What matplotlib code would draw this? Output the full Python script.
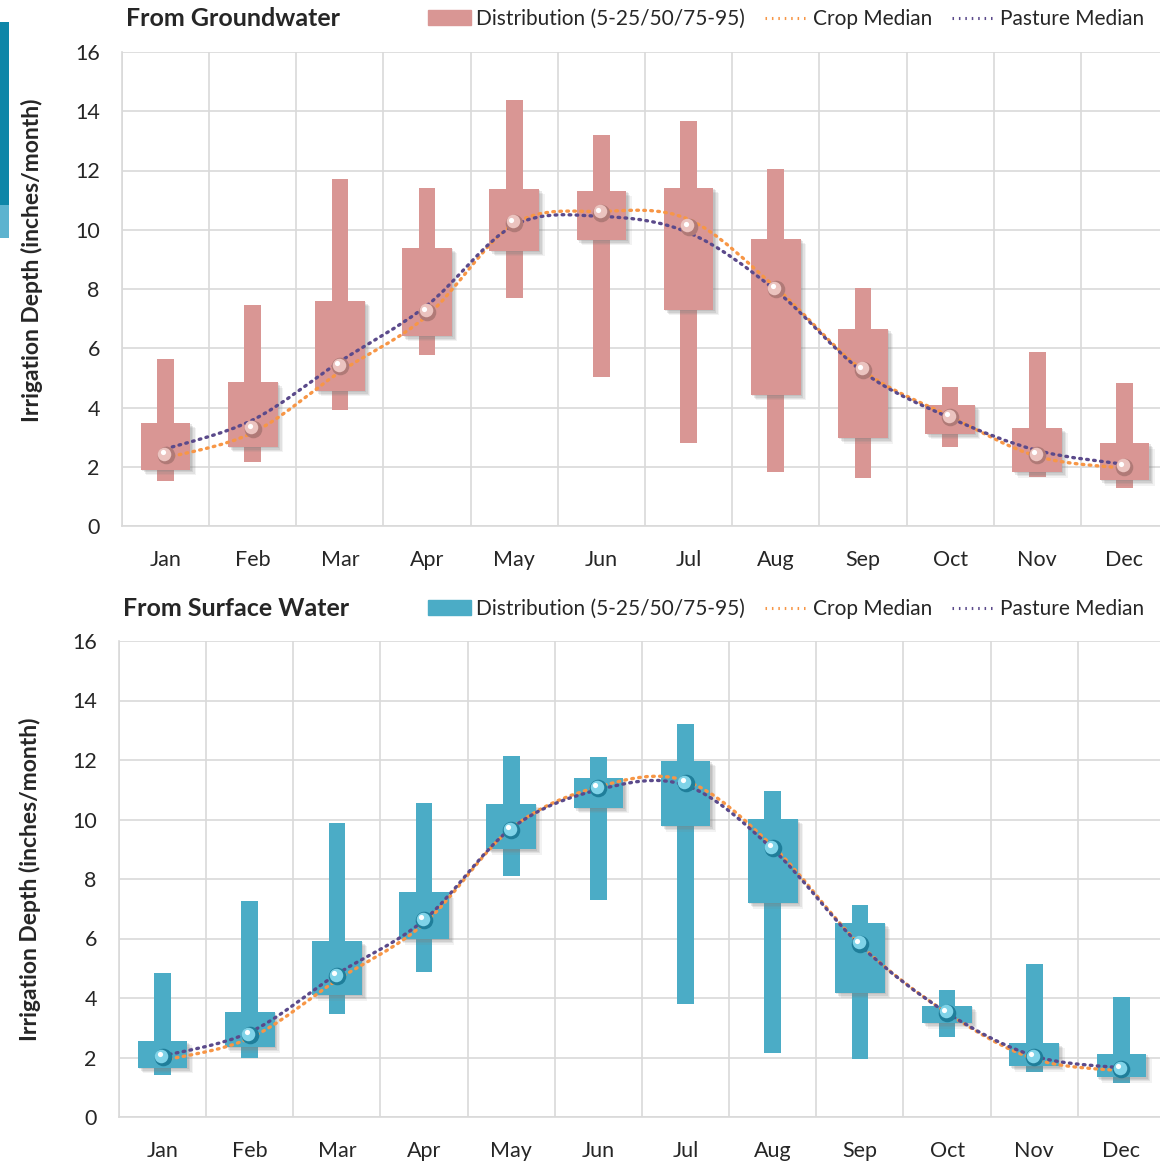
import matplotlib
matplotlib.use("Agg")
import matplotlib.pyplot as plt
import matplotlib.patheffects as pe
from matplotlib.path import Path
from matplotlib.patches import PathPatch, Rectangle
from matplotlib.lines import Line2D
from matplotlib.transforms import offset_copy
import numpy as np

plt.rcParams['font.family'] = ['Lato', 'DejaVu Sans']

months = ["Jan", "Feb", "Mar", "Apr", "May", "Jun", "Jul", "Aug", "Sep", "Oct", "Nov", "Dec"]
y_ticks = [0, 2, 4, 6, 8, 10, 12, 14, 16]

# Groundwater irrigation depth percentiles (inches/month)
gw_p5 = [1.52, 2.16, 3.92, 5.78, 7.70, 5.03, 2.80, 1.82, 1.62, 2.67, 1.66, 1.28]
gw_p25 = [1.90, 2.67, 4.56, 6.42, 9.29, 9.66, 7.30, 4.43, 2.97, 3.11, 1.82, 1.55]
gw_p50 = [2.40, 3.28, 5.40, 7.23, 10.24, 10.57, 10.10, 8.00, 5.27, 3.68, 2.40, 2.00]
gw_p75 = [3.48, 4.86, 7.60, 9.39, 11.39, 11.32, 11.42, 9.70, 6.66, 4.09, 3.31, 2.80]
gw_p95 = [5.64, 7.47, 11.72, 11.42, 14.39, 13.20, 13.68, 12.06, 8.04, 4.70, 5.88, 4.83]
gw_crop = [2.30, 3.15, 5.20, 7.10, 10.20, 10.62, 10.35, 8.05, 5.25, 3.70, 2.35, 1.95]
gw_pasture = [2.60, 3.58, 5.55, 7.45, 10.15, 10.45, 9.90, 7.95, 5.20, 3.65, 2.55, 2.08]

# Surface water irrigation depth percentiles (inches/month)
sw_p5 = [1.41, 1.98, 3.46, 4.87, 8.10, 7.29, 3.80, 2.15, 1.95, 2.69, 1.51, 1.14]
sw_p25 = [1.65, 2.35, 4.10, 5.98, 9.00, 10.39, 9.78, 7.19, 4.17, 3.16, 1.71, 1.34]
sw_p50 = [2.02, 2.76, 4.74, 6.62, 9.65, 11.05, 11.22, 9.04, 5.82, 3.50, 2.02, 1.61]
sw_p75 = [2.55, 3.53, 5.92, 7.56, 10.52, 11.39, 11.97, 10.02, 6.52, 3.73, 2.49, 2.12]
sw_p95 = [4.84, 7.26, 9.88, 10.55, 12.13, 12.10, 13.21, 10.96, 7.13, 4.27, 5.14, 4.03]
sw_crop = [1.90, 2.65, 4.60, 6.50, 9.70, 11.10, 11.30, 9.10, 5.80, 3.50, 1.95, 1.55]
sw_pasture = [2.05, 2.85, 4.80, 6.62, 9.70, 11.00, 11.15, 9.00, 5.78, 3.50, 2.05, 1.65]

ORANGE = "#F79646"
PURPLE = "#5B4A8B"
GRID = "#D9D9D9"
TEXT = "#262626"
DOTS = (0, (0.5, 1.6))


def smooth_path(x, y, tension=1 / 6.0):
    """Cubic Bezier path through the points (Catmull-Rom style smoothing)."""
    x = np.asarray(x, float)
    y = np.asarray(y, float)
    n = len(x)
    verts = [(x[0], y[0])]
    codes = [Path.MOVETO]
    for i in range(n - 1):
        i0 = max(i - 1, 0)
        i3 = min(i + 2, n - 1)
        c1 = (x[i] + (x[i + 1] - x[i0]) * tension, y[i] + (y[i + 1] - y[i0]) * tension)
        c2 = (x[i + 1] - (x[i3] - x[i]) * tension, y[i + 1] - (y[i3] - y[i]) * tension)
        verts += [c1, c2, (x[i + 1], y[i + 1])]
        codes += [Path.CURVE4] * 3
    return Path(verts, codes)


# Soft drop shadow built from a few faint offset copies
SOFT_SHADOW = [pe.SimplePatchShadow(offset=(o, -o), shadow_rgbFace="#808080", alpha=a)
               for o, a in [(4.0, 0.10), (3.0, 0.14), (2.0, 0.18), (1.0, 0.18)]] + [pe.Normal()]


def draw_panel(ax, p5, p25, p50, p75, p95, crop, pasture, color, ball_cols):
    x = np.arange(len(months))
    ax.set_xlim(-0.5, len(months) - 0.5)
    ax.set_ylim(0, 16)
    ax.set_yticks(y_ticks)
    ax.set_xticks(x)
    ax.set_xticklabels(months)
    ax.set_xticks(np.arange(-0.5, len(months), 1.0), minor=True)
    ax.grid(False)
    ax.yaxis.grid(True, color=GRID, lw=1.2)
    ax.xaxis.grid(True, which="minor", color=GRID, lw=1.2)
    ax.set_axisbelow(True)
    for s in ["top", "right"]:
        ax.spines[s].set_visible(False)
    for s in ["left", "bottom"]:
        ax.spines[s].set_color(GRID)
        ax.spines[s].set_linewidth(1.2)
    ax.tick_params(axis="both", which="both", length=0, labelsize=15.5, colors=TEXT)
    ax.tick_params(axis="x", pad=17)
    ax.tick_params(axis="y", pad=16)

    p5 = np.array(p5); p95 = np.array(p95)
    p25 = np.array(p25); p75 = np.array(p75)
    ax.bar(x, p95 - p5, bottom=p5, width=0.19, color=color, zorder=2)
    ax.bar(x, p75 - p25, bottom=p25, width=0.57, color=color, zorder=3,
           path_effects=SOFT_SHADOW)

    for vals, col in [(crop, ORANGE), (pasture, PURPLE)]:
        patch = PathPatch(smooth_path(x, vals), facecolor="none", edgecolor=col,
                          lw=2.4, linestyle=DOTS, capstyle="round", zorder=4)
        ax.add_patch(patch)

    base, mid, hi = ball_cols
    ax.scatter(x, p50, s=160, color=base, zorder=5, linewidths=0)
    tr = offset_copy(ax.transData, fig=ax.figure, x=-1.0, y=1.0, units="points")
    ax.scatter(x, p50, s=95, color=mid, zorder=6, linewidths=0, transform=tr)
    tr2 = offset_copy(ax.transData, fig=ax.figure, x=-2.2, y=2.2, units="points")
    ax.scatter(x, p50, s=14, color=hi, zorder=7, linewidths=0, transform=tr2)

    ax.set_ylabel("Irrigation Depth (inches/month)", fontsize=16.5, fontweight="bold",
                  color=TEXT)


fig = plt.figure(figsize=(11.6, 11.62), dpi=100)
fig.patch.set_facecolor("white")

ax1 = fig.add_axes([122 / 1160, 1 - 526 / 1162, 1046 / 1160, 474 / 1162])
ax2 = fig.add_axes([119 / 1160, 1 - 1117 / 1162, 1046 / 1160, 476 / 1162])

PINK = "#D99694"
BLUE = "#4BACC6"
draw_panel(ax1, gw_p5, gw_p25, gw_p50, gw_p75, gw_p95, gw_crop, gw_pasture, PINK,
           ("#B07A77", "#EBC3BF", "#FFFFFF"))
draw_panel(ax2, sw_p5, sw_p25, sw_p50, sw_p75, sw_p95, sw_crop, sw_pasture, BLUE,
           ("#1F7E9A", "#7FD3E8", "#FFFFFF"))

ax1.yaxis.set_label_coords(-(122 - 43) / 1046, (526 - 260) / 474)
ax2.yaxis.set_label_coords(-(119 - 41) / 1046, 0.5)

# Panel titles
fig.text(126 / 1160, 1 - 19 / 1162, "From Groundwater", fontsize=18, fontweight="bold",
         color=TEXT, va="center", ha="left")
fig.text(123 / 1160, 1 - 609 / 1162, "From Surface Water", fontsize=18, fontweight="bold",
         color=TEXT, va="center", ha="left")

# Legends
for color, yc in [(PINK, 19), (BLUE, 609)]:
    handles = [Rectangle((0, 0), 1, 1, color=color),
               Line2D([], [], color=ORANGE, lw=2.2, linestyle=DOTS),
               Line2D([], [], color=PURPLE, lw=2.2, linestyle=DOTS)]
    labels = ["Distribution (5-25/50/75-95)", "Crop Median", "Pasture Median"]
    fig.legend(handles, labels, loc="center right", bbox_to_anchor=(1152 / 1160, 1 - yc / 1162),
               ncol=3, frameon=False, fontsize=15, handlelength=2.05, handletextpad=0.25,
               columnspacing=0.95, borderaxespad=0, labelcolor=TEXT)

# Side accent bar
fig.patches.append(Rectangle((0, 1 - 205 / 1162), 9 / 1160, 183 / 1162, transform=fig.transFigure,
                             facecolor="#0E86A8", edgecolor="none"))
fig.patches.append(Rectangle((0, 1 - 238 / 1162), 9 / 1160, 33 / 1162, transform=fig.transFigure,
                             facecolor="#5DB3CF", edgecolor="none"))

fig.savefig("out.png", dpi=100)
